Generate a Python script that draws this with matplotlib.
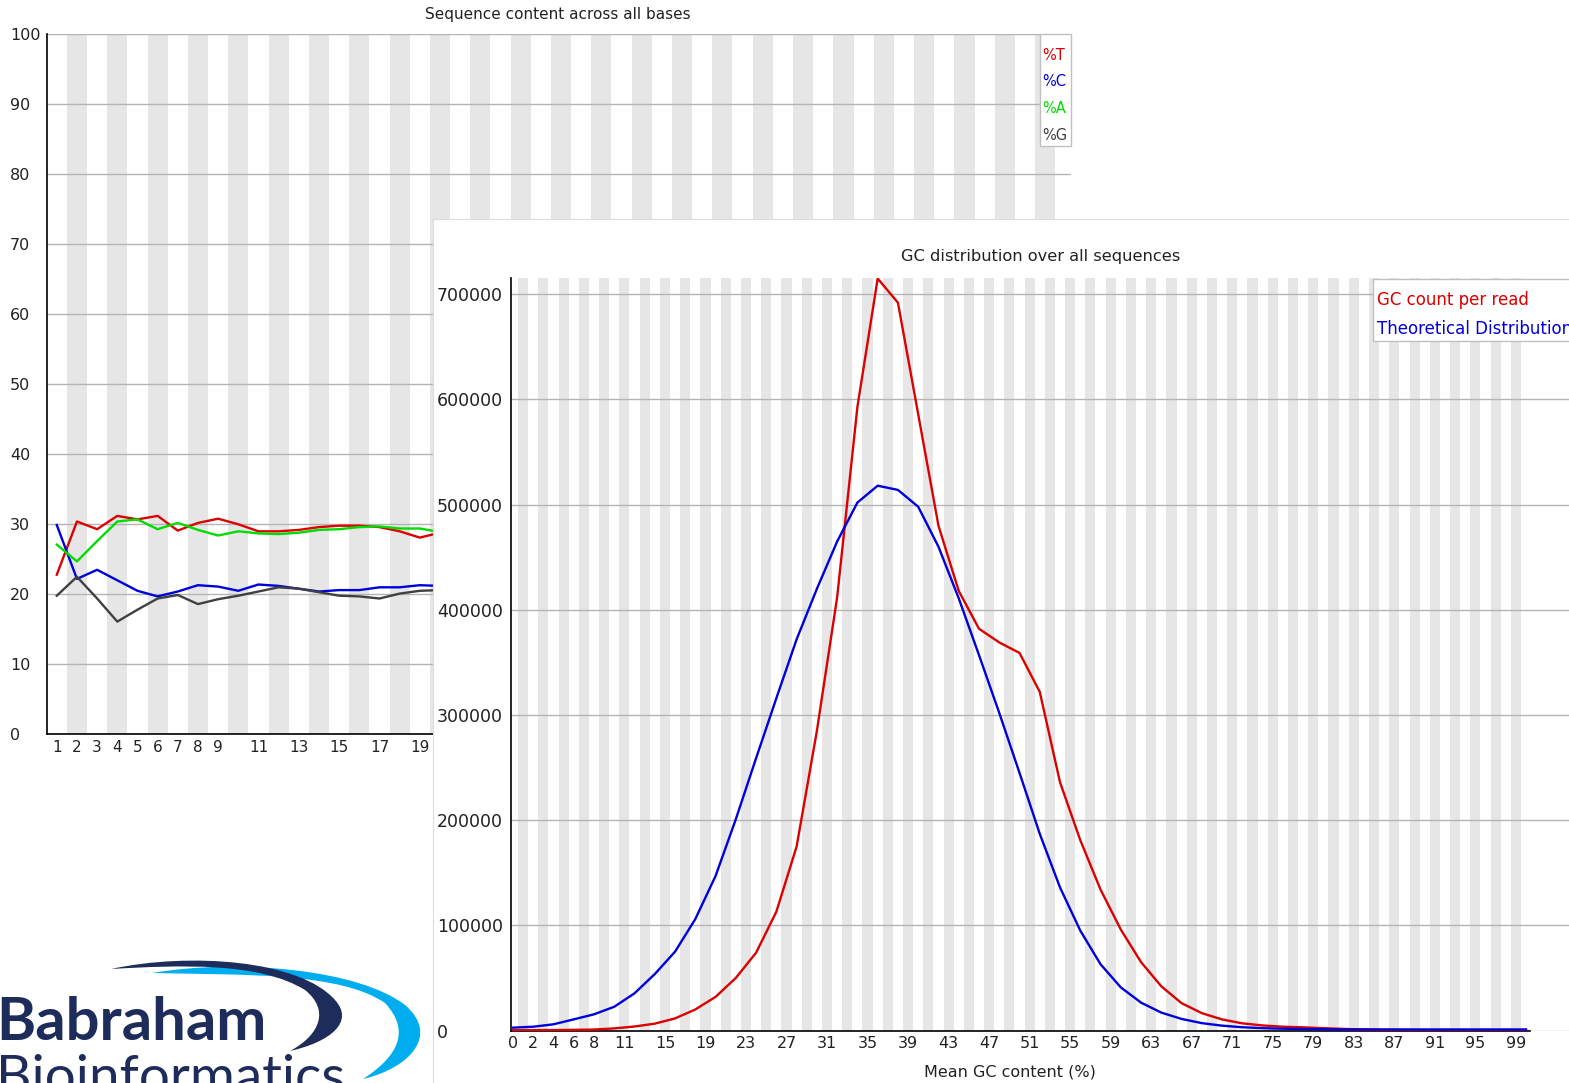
import matplotlib
matplotlib.use('Agg')
import matplotlib.pyplot as plt
from matplotlib.patches import Rectangle, PathPatch
from matplotlib.path import Path

W, H = 1569, 1083

# --- per base sequence content (only the first 20 positions are visible) ---
n_bases = 50
positions = list(range(1, 21))
pct_t = [22.8, 30.4, 29.3, 31.2, 30.7, 31.2, 29.1, 30.2, 30.8, 30.0,
         29.0, 29.0, 29.2, 29.6, 29.8, 29.8, 29.6, 29.0, 28.1, 28.8]
pct_c = [29.9, 22.2, 23.5, 22.0, 20.5, 19.7, 20.4, 21.3, 21.1, 20.5,
         21.4, 21.2, 20.8, 20.4, 20.6, 20.6, 21.0, 21.0, 21.3, 21.2]
pct_a = [27.1, 24.7, 27.6, 30.4, 30.7, 29.3, 30.2, 29.2, 28.4, 29.0,
         28.7, 28.6, 28.8, 29.2, 29.3, 29.6, 29.7, 29.4, 29.4, 28.9]
pct_g = [19.8, 22.5, 19.4, 16.1, 17.8, 19.4, 19.9, 18.6, 19.3, 19.8,
         20.4, 21.0, 20.8, 20.3, 19.8, 19.7, 19.4, 20.1, 20.5, 20.6]
seq_labels = ['%T', '%C', '%A', '%G']

# --- GC distribution ---
gc_pct = list(range(0, 101, 2))
gc_count = [300, 400, 400, 600, 900, 2000, 3800, 6500, 11500, 20000,
            32000, 50000, 74000, 113000, 175000, 285000, 412000, 593000, 715000, 692000,
            586000, 480000, 418000, 382000, 369000, 359000, 322000, 236000, 181000, 134000,
            96000, 65000, 42000, 26000, 16500, 10500, 6800, 4800, 3600, 3000,
            2200, 1500, 1000, 600, 400, 300, 200, 100, 0, 0, 0]
gc_theory = [2700, 3600, 5900, 10600, 15400, 22600, 35400, 53700, 75000, 106000,
             147000, 201000, 259000, 316000, 372000, 420000, 465000, 502000, 518000, 514000,
             498000, 460000, 411000, 357000, 302000, 245000, 187000, 136000, 95000, 63000,
             41000, 26500, 17000, 11000, 7000, 4600, 3100, 2200, 1700, 1400,
             1200, 1000, 1000, 1000, 1000, 1000, 1000, 1000, 1000, 1000, 1000]
gc_labels = ['GC count per read', 'Theoretical Distribution']

RED, BLUE, GREEN, GREY = '#dc0000', '#0000dc', '#00dc00', '#404040'
STRIPE, GRID = '#e6e6e6', '#b4b4b4'
NAVY, SKY = '#1e2c5c', '#00aeef'

fig = plt.figure(figsize=(W / 100, H / 100), dpi=100)
fig.patch.set_facecolor('white')


def px_axes(l, t, r, b):
    return fig.add_axes([l / W, 1 - b / H, (r - l) / W, (b - t) / H])


def fx(x):
    return x / W


def fy(y):
    return 1 - y / H


# ---------------- Sequence content chart ----------------
ax1 = px_axes(46.7, 34.3, 1071, 734.3)
ax1.set_xlim(0.5, 0.5 + (1071 - 46.7) / 20.17)
ax1.set_ylim(0, 100)
for p in range(2, n_bases + 1, 2):
    ax1.axvspan(p - 0.5, p + 0.5, color=STRIPE, lw=0, zorder=0)
for v in range(0, 101, 10):
    ax1.axhline(v, color=GRID, lw=1.0, zorder=1)
for vals, col in zip([pct_t, pct_c, pct_a, pct_g], [RED, BLUE, GREEN, GREY]):
    ax1.plot(positions, vals, color=col, lw=1.7, zorder=3)
for s in ['top', 'right']:
    ax1.spines[s].set_visible(False)
for s in ['left', 'bottom']:
    ax1.spines[s].set_color('black')
    ax1.spines[s].set_linewidth(1.2)
ax1.set_yticks(range(0, 101, 10))
xt = list(range(1, 10)) + list(range(11, n_bases + 1, 2))
ax1.set_xticks(xt)
ax1.set_xticklabels([str(v) for v in xt])
ax1.tick_params(length=0, labelsize=11, colors='#222222')
ax1.tick_params(axis='y', labelsize=11.5, pad=26.4)
ax1.tick_params(axis='x', pad=4)
for lab in ax1.get_yticklabels():
    lab.set_ha('left')
fig.text(fx(557.5), fy(14), 'Sequence content across all bases', ha='center', va='center',
         fontsize=11, color='#222222')

fig.add_artist(Rectangle((fx(1040), fy(146)), 31 / W, 112 / H, transform=fig.transFigure,
                         fc='white', ec='#c0c0c0', lw=1, zorder=5))
for i, (lab, col) in enumerate(zip(seq_labels, [RED, BLUE, GREEN, GREY])):
    fig.text(fx(1042), fy(55 + i * 26.8), lab, color=col, fontsize=10.5, va='center', zorder=6)

# ---------------- Logo ----------------
axl = px_axes(0, 930, 432, 1083)
axl.set_xlim(0, 432)
axl.set_ylim(1083, 930)
axl.axis('off')
sky = Path([(152, 973), (240, 958), (360, 970), (405, 1005),
            (440, 1035), (410, 1068), (363, 1079),
            (400, 1055), (410, 1030), (385, 1003),
            (340, 972), (240, 975), (152, 973), (152, 973)],
           [Path.MOVETO] + [Path.CURVE4] * 12 + [Path.CLOSEPOLY])
navy = Path([(111, 969), (190, 952), (300, 960), (335, 1000),
             (355, 1022), (330, 1042), (290, 1051),
             (320, 1035), (330, 1010), (305, 990),
             (260, 962), (180, 965), (111, 969), (111, 969)],
            [Path.MOVETO] + [Path.CURVE4] * 12 + [Path.CLOSEPOLY])
axl.add_patch(PathPatch(sky, fc=SKY, ec='none'))
axl.add_patch(PathPatch(navy, fc=NAVY, ec='none'))
axl.text(-4, 1040, 'Babraham', fontsize=43, family='Lato', weight='bold', color=NAVY,
         va='baseline')
axl.text(-4, 1094, 'Bioinformatics', fontsize=39.5, family='Lato', color=NAVY, va='baseline')

# ---------------- GC distribution panel ----------------
axbg = px_axes(433, 219, 1572, 1086)
axbg.set_xticks([])
axbg.set_yticks([])
for s in ['right', 'bottom']:
    axbg.spines[s].set_visible(False)
for s in ['left', 'top']:
    axbg.spines[s].set_color('#dcdcdc')

x0 = -0.247
ax2 = px_axes(510.5, 278, 1569, 1030.5)
ax2.patch.set_alpha(0)
ax2.set_xlim(x0, x0 + (1569 - 510.5) / 10.13)
ax2.set_ylim(0, 715500)
for i in range(1, 100, 2):
    ax2.axvspan(i - 0.5, i + 0.5, color=STRIPE, lw=0, zorder=0)
for v in range(0, 700001, 100000):
    ax2.axhline(v, color=GRID, lw=1.0, zorder=1)
ax2.plot(gc_pct, gc_count, color=RED, lw=1.7, zorder=3)
ax2.plot(gc_pct, gc_theory, color=BLUE, lw=1.7, zorder=3)
for s in ['top', 'right']:
    ax2.spines[s].set_visible(False)
for s in ['left', 'bottom']:
    ax2.spines[s].set_color('black')
    ax2.spines[s].set_linewidth(1.2)
ax2.spines['bottom'].set_bounds(x0, 100.4)
ax2.set_yticks(range(0, 700001, 100000))
ax2.set_yticklabels([str(v) for v in range(0, 700001, 100000)])
gx = [0, 2, 4, 6, 8] + list(range(11, 100, 4))
ax2.set_xticks(gx)
ax2.set_xticklabels([str(v) for v in gx])
ax2.tick_params(length=0, labelsize=11.5, colors='#222222')
ax2.tick_params(axis='y', labelsize=12.5, pad=52.9)
ax2.tick_params(axis='x', pad=4)
for lab in ax2.get_yticklabels():
    lab.set_ha('left')
ax2.set_xlabel('Mean GC content (%)', fontsize=11.5, color='#222222')
ax2.xaxis.set_label_coords((1010 - 510.5) / (1569 - 510.5), -(1072 - 1030.5) / (1030.5 - 278))
ax2.xaxis.label.set_va('center')
fig.text(fx(1041), fy(257), 'GC distribution over all sequences', ha='center', va='center',
         fontsize=11.7, color='#222222')

fig.add_artist(Rectangle((fx(1372.5), fy(340.5)), 210 / W, 62 / H, transform=fig.transFigure,
                         fc='white', ec='#c0c0c0', lw=1, zorder=5))
for i, (lab, col) in enumerate(zip(gc_labels, [RED, BLUE])):
    fig.text(fx(1377), fy(300 + i * 29), lab, color=col, fontsize=12, va='center', zorder=6)

fig.savefig('out.png', dpi=100)
